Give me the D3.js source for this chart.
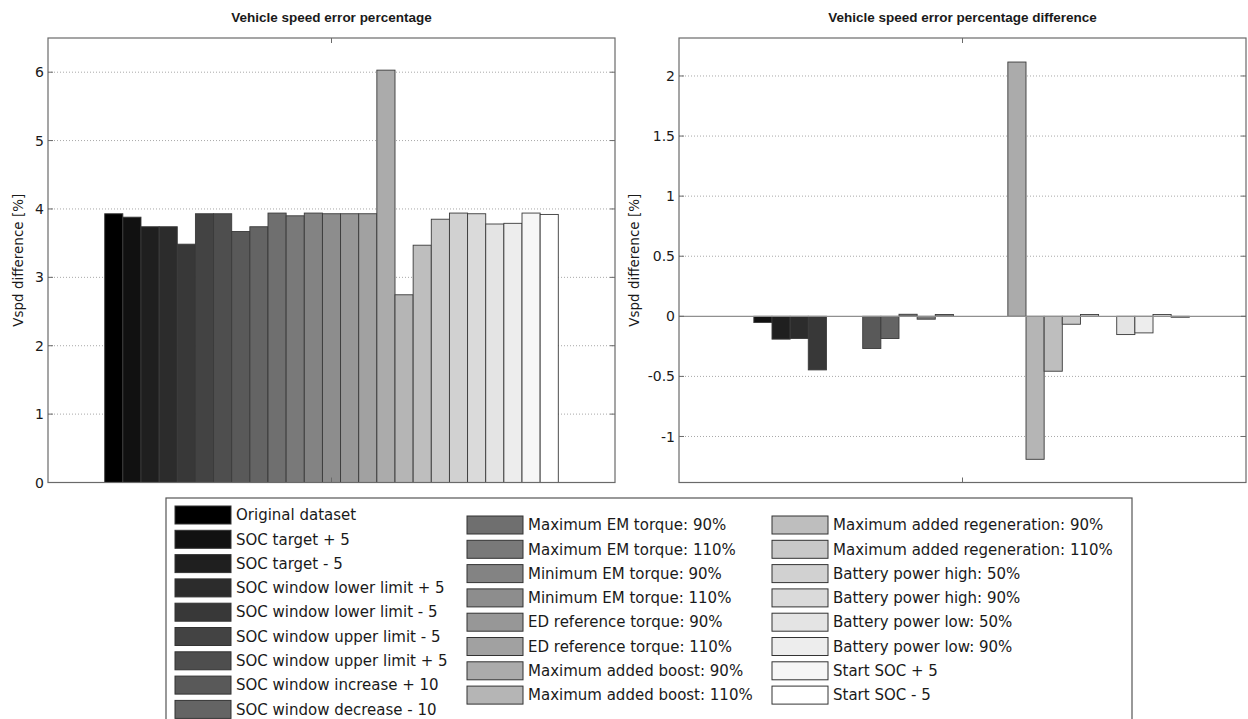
<!DOCTYPE html>
<html>
<head>
<meta charset="UTF-8">
<script src="https://cdn.jsdelivr.net/npm/d3@7"></script>
<style>
  body { margin: 0; background: #fff; }
  text { font-family: "DejaVu Sans", Verdana, sans-serif; fill: #1a1a1a; }
  .title { font-family: "Liberation Sans", Arial, sans-serif; font-weight: bold; font-size: 13.5px; }
  .tick-label { font-size: 14px; }
  .ylabel { font-size: 13.5px; }
  .legend-text { font-size: 15px; }
</style>
</head>
<body>
<svg id="chart" width="1248" height="719"></svg>
<script>
// categories (legend order = bar order)
var categories = [
  "Original dataset", "SOC target + 5", "SOC target - 5",
  "SOC window lower limit + 5", "SOC window lower limit - 5",
  "SOC window upper limit - 5", "SOC window upper limit + 5",
  "SOC window increase + 10", "SOC window decrease - 10",
  "Maximum EM torque: 90%", "Maximum EM torque: 110%",
  "Minimum EM torque: 90%", "Minimum EM torque: 110%",
  "ED reference torque: 90%", "ED reference torque: 110%",
  "Maximum added boost: 90%", "Maximum added boost: 110%",
  "Maximum added regeneration: 90%", "Maximum added regeneration: 110%",
  "Battery power high: 50%", "Battery power high: 90%",
  "Battery power low: 50%", "Battery power low: 90%",
  "Start SOC + 5", "Start SOC - 5"
];

// vehicle speed error [%]
var speedError = [3.93, 3.88, 3.74, 3.74, 3.485, 3.93, 3.93, 3.67, 3.74,
  3.94, 3.90, 3.94, 3.93, 3.93, 3.93, 6.03, 2.745,
  3.47, 3.85, 3.94, 3.93, 3.78, 3.79, 3.94, 3.92];

// difference to original dataset [%]
var speedErrorDiff = [0, -0.052, -0.19, -0.185, -0.446, 0, 0, -0.268, -0.185,
  0.017, -0.024, 0.015, 0, 0, 0, 2.116, -1.19,
  -0.457, -0.066, 0.015, 0, -0.152, -0.138, 0.015, -0.008];

var leftTicks = [0, 1, 2, 3, 4, 5, 6];
var rightTicks = [-1, -0.5, 0, 0.5, 1, 1.5, 2];

var n = categories.length;
function grey(i) {
  var v = Math.round(255 * Math.pow(i / (n - 1), 0.85));
  return "rgb(" + v + "," + v + "," + v + ")";
}

var svg = d3.select("#chart");

function panel(opt) {
  var x = d3.scaleLinear().domain([0.5, 1.5]).range([opt.left, opt.right]);
  var y = d3.scaleLinear().domain(opt.domain).range([opt.bottom, opt.top]);
  var g = svg.append("g");
  var groupWidth = 0.8, bw = groupWidth / n;

  // dotted grid (zero is the axis / baseline)
  g.selectAll(".grid").data(opt.ticks.filter(function(t) { return t !== 0; }))
    .enter().append("line")
    .attr("x1", opt.left).attr("x2", opt.right)
    .attr("y1", function(d) { return y(d); }).attr("y2", function(d) { return y(d); })
    .attr("stroke", "#a8a8a8").attr("stroke-width", 1).attr("stroke-dasharray", "1,2");

  // bars
  g.selectAll(".bar").data(opt.values).enter().append("rect")
    .attr("x", function(d, i) { return x(1 - groupWidth / 2 + i * bw); })
    .attr("width", x(1 + bw) - x(1))
    .attr("y", function(d) { return y(Math.max(0, d)); })
    .attr("height", function(d) { return Math.abs(y(d) - y(0)); })
    .attr("fill", function(d, i) { return grey(i); })
    .attr("stroke", "#3a3a3a").attr("stroke-width", 0.9)
    .attr("display", function(d) { return d === 0 ? "none" : null; });

  // baseline for negative values
  if (opt.domain[0] < 0) {
    g.append("line").attr("x1", opt.left).attr("x2", opt.right)
      .attr("y1", y(0)).attr("y2", y(0))
      .attr("stroke", "#909090").attr("stroke-width", 1.3);
  }

  // frame
  g.append("rect").attr("x", opt.left).attr("y", opt.top)
    .attr("width", opt.right - opt.left).attr("height", opt.bottom - opt.top)
    .attr("fill", "none").attr("stroke", "#6a6a6a").attr("stroke-width", 1.2);

  // y ticks (both sides, inward)
  opt.ticks.forEach(function(t) {
    g.append("line").attr("x1", opt.left).attr("x2", opt.left + 5)
      .attr("y1", y(t)).attr("y2", y(t)).attr("stroke", "#6a6a6a");
    g.append("line").attr("x1", opt.right).attr("x2", opt.right - 5)
      .attr("y1", y(t)).attr("y2", y(t)).attr("stroke", "#6a6a6a");
    g.append("text").attr("class", "tick-label")
      .attr("x", opt.left - 4).attr("y", y(t)).attr("dy", "0.36em")
      .attr("text-anchor", "end").text(String(t));
  });

  // x tick at centre
  g.append("line").attr("x1", x(1)).attr("x2", x(1))
    .attr("y1", opt.top).attr("y2", opt.top + 5).attr("stroke", "#6a6a6a");
  g.append("line").attr("x1", x(1)).attr("x2", x(1))
    .attr("y1", opt.bottom).attr("y2", opt.bottom - 5).attr("stroke", "#6a6a6a");

  g.append("text").attr("class", "title")
    .attr("x", (opt.left + opt.right) / 2).attr("y", 22)
    .attr("text-anchor", "middle").text(opt.title);

  g.append("text").attr("class", "ylabel")
    .attr("transform", "translate(" + opt.ylabelX + "," + (opt.top + opt.bottom) / 2 + ") rotate(-90)")
    .attr("text-anchor", "middle").text("Vspd difference [%]");
}

panel({
  left: 48, right: 615, top: 38, bottom: 482.5,
  domain: [0, 6.5], ticks: leftTicks, values: speedError,
  title: "Vehicle speed error percentage", ylabelX: 23
});

panel({
  left: 679, right: 1246, top: 38, bottom: 482.5,
  domain: [-1.383, 2.316], ticks: rightTicks, values: speedErrorDiff,
  title: "Vehicle speed error percentage difference", ylabelX: 639
});

// legend
var legend = svg.append("g");
legend.append("rect").attr("x", 166).attr("y", 498).attr("width", 966).attr("height", 240)
  .attr("fill", "#fff").attr("stroke", "#555").attr("stroke-width", 1.2);

var colX = [175, 467, 772];
var rowH = 24.3;
categories.forEach(function(c, i) {
  var col = i < 9 ? 0 : (i < 17 ? 1 : 2);
  var row = col === 0 ? i : (col === 1 ? i - 9 : i - 17);
  var cy = (col === 0 ? 515 : 525) + row * rowH;
  legend.append("rect").attr("x", colX[col]).attr("y", cy - 9)
    .attr("width", 56).attr("height", 18)
    .attr("fill", grey(i)).attr("stroke", "#333").attr("stroke-width", 1);
  legend.append("text").attr("class", "legend-text")
    .attr("x", colX[col] + 61).attr("y", cy).attr("dy", "0.35em").text(c);
});
</script>
</body>
</html>
